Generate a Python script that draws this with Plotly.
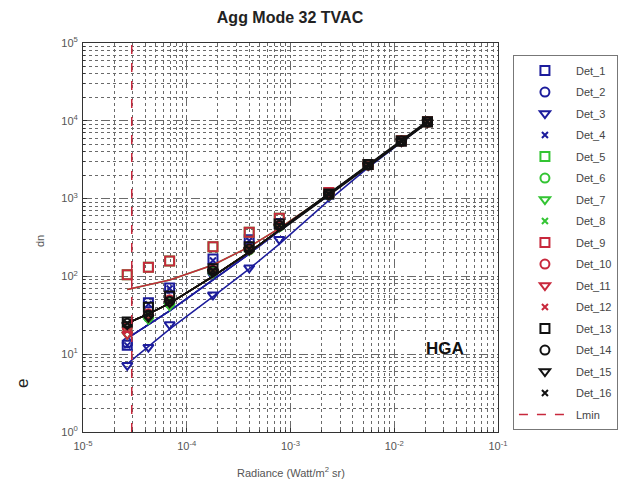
import plotly.graph_objects as go

# ---------------- data ----------------
radiance = [2.67e-5, 4.27e-5, 6.84e-5, 1.79e-4, 4.0e-4, 7.8e-4, 2.34e-3, 5.6e-3, 1.17e-2, 2.09e-2]

det_names = [f"Det_{i}" for i in range(1, 17)]

dn_det1 = [13, 46, 71, 167, 295, 480, 1150, 2750, 5500, 9700]
dn_det2 = [14, 30, 46, 110, 230, 450, 1120, 2700, 5450, 9650]
dn_det3 = [7.2, 12.3, 24, 58, 129, 300, 1050, 2650, 5400, 9600]
dn_det4 = [13, 44, 70, 160, 290, 470, 1140, 2740, 5500, 9700]
dn_det5 = [105, 131, 158, 240, 370, 560, 1200, 2750, 5550, 9750]
dn_det6 = [22, 30, 45, 115, 220, 440, 1120, 2700, 5450, 9650]
dn_det7 = [18, 28, 42, 110, 215, 430, 1110, 2700, 5450, 9650]
dn_det8 = [20, 30, 44, 112, 218, 440, 1120, 2700, 5450, 9650]
dn_det9 = [105, 131, 158, 240, 370, 560, 1200, 2750, 5550, 9750]
dn_det10 = [22, 33, 50, 120, 225, 450, 1130, 2700, 5450, 9650]
dn_det11 = [18, 30, 46, 115, 220, 440, 1120, 2700, 5450, 9650]
dn_det12 = [20, 32, 48, 118, 222, 445, 1125, 2700, 5450, 9650]
dn_det13 = [26, 40, 56, 125, 240, 470, 1150, 2750, 5500, 9700]
dn_det14 = [25, 32, 48, 118, 225, 450, 1130, 2720, 5480, 9680]
dn_det15 = [24, 30, 46, 115, 220, 445, 1125, 2710, 5470, 9670]
dn_det16 = [25, 32, 48, 118, 225, 450, 1130, 2720, 5480, 9680]

# fitted response curves at the same radiance levels
fit_high = [68, 78, 90, 140, 240, 415, 1135, 2640, 5440, 9670]
fit_mid = [25, 33, 45, 100, 205, 390, 1120, 2650, 5450, 9660]
fit_blue = [16, 24, 36, 90, 195, 385, 1115, 2650, 5450, 9660]
fit_low = [7.5, 12.5, 21, 55, 125, 260, 950, 2500, 5300, 9550]

lmin_radiance = 2.95e-5
y_range_dn = [1, 1e5]

x_tick_vals = [1e-5, 1e-4, 1e-3, 1e-2, 1e-1]
x_tick_text = ["10<sup>-5</sup>", "10<sup>-4</sup>", "10<sup>-3</sup>", "10<sup>-2</sup>", "10<sup>-1</sup>"]
y_tick_vals = [1, 10, 100, 1e3, 1e4, 1e5]
y_tick_text = ["10<sup>0</sup>", "10<sup>1</sup>", "10<sup>2</sup>", "10<sup>3</sup>", "10<sup>4</sup>", "10<sup>5</sup>"]

# ---------------- styling ----------------
dn_all = [dn_det1, dn_det2, dn_det3, dn_det4, dn_det5, dn_det6, dn_det7, dn_det8,
          dn_det9, dn_det10, dn_det11, dn_det12, dn_det13, dn_det14, dn_det15, dn_det16]
fit_all = [fit_blue, fit_blue, fit_low, fit_blue, fit_high, fit_mid, fit_mid, fit_mid,
           fit_high, fit_mid, fit_mid, fit_mid, fit_mid, fit_mid, fit_mid, fit_mid]

blue, green, red, black = "#1c1c9c", "#33c433", "#c8283c", "#111111"
colors = [blue] * 4 + [green] * 4 + [red] * 4 + [black] * 4
symbols = ["square-open", "circle-open", "triangle-down-open", "x-thin-open"] * 4

fig = go.Figure()

for i in range(16):
    fig.add_trace(go.Scatter(
        x=radiance, y=fit_all[i], mode="lines",
        line=dict(color=colors[i], width=1.5),
        showlegend=False, hoverinfo="skip"))
    fig.add_trace(go.Scatter(
        x=radiance, y=dn_all[i], mode="markers", name=det_names[i],
        legendgroup=det_names[i],
        marker=dict(symbol=symbols[i], size=9 if i % 4 != 3 else 6,
                    color=colors[i], line=dict(color=colors[i], width=2))))

# black bundle on top
fig.add_trace(go.Scatter(x=radiance[5:], y=fit_mid[5:], mode="lines",
                         line=dict(color=black, width=3), showlegend=False, hoverinfo="skip"))

fig.add_trace(go.Scatter(
    x=[lmin_radiance, lmin_radiance], y=y_range_dn, mode="lines", name="Lmin",
    legendgroup="Lmin",
    line=dict(color="#c8283c", width=1.5, dash="dash")))

grid_col = "#6a6a6a"
axis_common = dict(
    type="log", showline=True, linecolor="#333333", linewidth=1, mirror=True,
    showgrid=True, gridcolor=grid_col, griddash="dash", gridwidth=1,
    ticks="inside", ticklen=4, tickcolor="#333333",
    tickfont=dict(family="Liberation Sans, Arial", size=11, color="#555555"),
    minor=dict(dtick="D1", showgrid=True, gridcolor=grid_col, griddash="dot", gridwidth=1,
               ticks="inside", ticklen=2, tickcolor="#333333"),
    zeroline=False,
)

fig.update_xaxes(range=[-5, -1], tickmode="array", tickvals=x_tick_vals, ticktext=x_tick_text,
                 ticklabelstandoff=4, **axis_common)
fig.update_yaxes(range=[0, 5], tickmode="array", tickvals=y_tick_vals, ticktext=y_tick_text,
                 ticklabelstandoff=2, **axis_common)

fig.update_layout(
    width=632, height=481,
    margin=dict(l=83, r=134, t=43, b=49),
    paper_bgcolor="white", plot_bgcolor="white",
    font=dict(family="Liberation Sans, Arial", color="#333333"),
    title=dict(text="<b>Agg Mode 32 TVAC</b>", x=290 / 632, xanchor="center",
               y=1 - 17 / 481, yanchor="middle",
               font=dict(size=16, color="#222222", family="Liberation Sans, Arial")),
    legend=dict(x=1.036, y=0.969, xanchor="left", yanchor="top",
                bgcolor="white", bordercolor="#777777", borderwidth=1,
                font=dict(size=11, color="#444444", family="Liberation Sans, Arial"),
                tracegroupgap=2.5, itemwidth=52),
    showlegend=True,
    annotations=[
        dict(text="Radiance (Watt/m<sup>2</sup> sr)", xref="paper", yref="paper",
             x=0.5, y=-40 / 389, xanchor="center", yanchor="middle", showarrow=False,
             font=dict(size=11, color="#555555")),
        dict(text="dn", xref="paper", yref="paper", x=-43 / 415, y=(432 - 241) / 389,
             xanchor="center", yanchor="middle", textangle=-90, showarrow=False,
             font=dict(size=11, color="#555555")),
        dict(text="e", xref="paper", yref="paper", x=-61 / 415, y=(432 - 383) / 389,
             xanchor="center", yanchor="middle", textangle=-90, showarrow=False,
             font=dict(size=17, color="#222222")),
        dict(text="<b>HGA</b>", xref="paper", yref="paper", x=(445 - 83) / 415, y=(432 - 348) / 389,
             xanchor="center", yanchor="middle", showarrow=False,
             font=dict(size=17, color="#111111")),
    ],
)

fig.write_html("out.html")
